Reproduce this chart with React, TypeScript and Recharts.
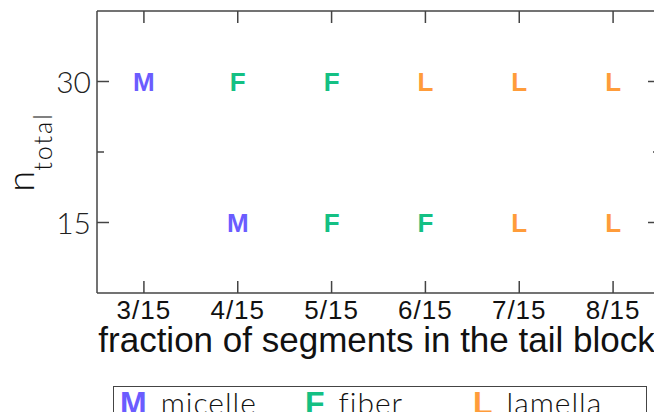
import React from 'react';
import { ScatterChart, Scatter, XAxis, YAxis } from 'recharts';

// tail fraction numerators (denominator 15)
const fractions = [3, 4, 5, 6, 7, 8];
const nTotalRows = [30, 15];
// phase letter per fraction, one list per n_total row ('' = no point)
const phasesAt30 = ['M', 'F', 'F', 'L', 'L', 'L'];
const phasesAt15 = ['', 'M', 'F', 'F', 'L', 'L'];
const phaseKeys = ['M', 'F', 'L'];
const phaseNames = ['micelle', 'fiber', 'lamella'];
const yTicks = [15, 22.5, 30];

const COLORS: Record<string, string> = { M: '#6b5cff', F: '#14c083', L: '#ff9c3a' };
const AXIS = '#444';
const SANS = '"Liberation Sans", Arial, sans-serif';
const LIGHT = '"Lato", "Open Sans", sans-serif';

const rows = [phasesAt30, phasesAt15];
const series = phaseKeys.map((key, i) => {
  const pts: { x: number; y: number }[] = [];
  rows.forEach((row, r) => {
    row.forEach((p, j) => {
      if (p === key) pts.push({ x: fractions[j], y: nTotalRows[r] });
    });
  });
  return { key, name: phaseNames[i], data: pts };
});
const allPoints = series.flatMap((s) => s.data);

const LetterShape = (letter: string) => (props: any) => (
  <text
    x={props.cx}
    y={props.cy}
    textAnchor="middle"
    dominantBaseline="central"
    fill={COLORS[letter]}
    fontFamily={SANS}
    fontWeight="bold"
    fontSize={26}
  >
    {letter}
  </text>
);

const NoShape = () => <g />;

const BottomTick = (props: any) => {
  const { x, y, payload } = props;
  return (
    <g>
      <line x1={x} x2={x} y1={y} y2={y - 12} stroke={AXIS} strokeWidth={1.5} />
      <text x={x} y={y + 26} textAnchor="middle" fill="#111" fontFamily={SANS} fontSize={26} letterSpacing={1}>
        {`${payload.value}/15`}
      </text>
    </g>
  );
};

const TopTick = (props: any) => {
  const { x, y } = props;
  return <line x1={x} x2={x} y1={y} y2={y + 12} stroke={AXIS} strokeWidth={1.5} />;
};

const LeftTick = (props: any) => {
  const { x, y, payload } = props;
  const major = payload.value % 15 === 0;
  return (
    <g>
      <line x1={x} x2={x + (major ? 12 : 7)} y1={y} y2={y} stroke={AXIS} strokeWidth={1.5} />
      {major && (
        <text x={x - 6} y={y + 11} textAnchor="end" fill="#222" fontFamily={LIGHT} fontWeight={300} fontSize={30}>
          {payload.value}
        </text>
      )}
    </g>
  );
};

const RightTick = (props: any) => {
  const { x, y, payload } = props;
  const major = payload.value % 15 === 0;
  return <line x1={x} x2={x - (major ? 12 : 7)} y1={y} y2={y} stroke={AXIS} strokeWidth={1.5} />;
};

const YLabel = () => (
  <text transform="translate(34,152) rotate(-90)" textAnchor="middle" fill="#111" fontFamily={LIGHT} fontWeight={300}>
    <tspan fontSize={38}>n</tspan>
    <tspan fontSize={25} dy={18} letterSpacing={2}>total</tspan>
  </text>
);

const XLabel = (props: any) => {
  const { viewBox } = props;
  return (
    <text
      x={viewBox.x + viewBox.width / 2 - 2}
      y={viewBox.y + 59}
      textAnchor="middle"
      fill="#111"
      fontFamily={SANS}
      fontSize={35}
    >
      fraction of segments in the tail block
    </text>
  );
};

export default function App() {
  return (
    <div style={{ margin: -8, position: 'relative', width: 662, height: 420, overflow: 'hidden' }}>
      <ScatterChart width={662} height={420} margin={{ top: 10, right: 1, bottom: 57, left: 0 }}>
        <XAxis
          type="number"
          dataKey="x"
          domain={[2.5, 8.5]}
          ticks={fractions}
          height={70}
          tickSize={0}
          tickMargin={0}
          tickLine={false}
          tick={BottomTick}
          axisLine={{ stroke: AXIS, strokeWidth: 1.5 }}
          label={<XLabel />}
        />
        <XAxis
          xAxisId="top"
          orientation="top"
          type="number"
          dataKey="x"
          domain={[2.5, 8.5]}
          ticks={fractions}
          height={1}
          tickSize={0}
          tickMargin={0}
          tickLine={false}
          tick={TopTick}
          axisLine={{ stroke: AXIS, strokeWidth: 1.5 }}
        />
        <YAxis
          type="number"
          dataKey="y"
          domain={[7.5, 37.5]}
          ticks={yTicks}
          width={97}
          tickSize={0}
          tickMargin={0}
          tickLine={false}
          tick={LeftTick}
          axisLine={{ stroke: AXIS, strokeWidth: 1.5 }}
          label={<YLabel />}
        />
        <YAxis
          yAxisId="right"
          orientation="right"
          type="number"
          dataKey="y"
          domain={[7.5, 37.5]}
          ticks={yTicks}
          width={1}
          tickSize={0}
          tickMargin={0}
          tickLine={false}
          tick={RightTick}
          axisLine={{ stroke: AXIS, strokeWidth: 1.5 }}
        />
        {series.map((s) => (
          <Scatter
            key={s.key}
            name={s.name}
            data={s.data}
            shape={LetterShape(s.key)}
            isAnimationActive={false}
          />
        ))}
        {/* invisible series so the mirrored top/right axes get drawn */}
        <Scatter
          xAxisId="top"
          yAxisId="right"
          data={allPoints}
          shape={NoShape}
          legendType="none"
          isAnimationActive={false}
        />
      </ScatterChart>
      <div
        style={{
          position: 'absolute',
          left: 113,
          top: 386,
          width: 532,
          height: 60,
          border: `1.5px solid ${AXIS}`,
        }}
      >
        {series.map((s, i) => (
          <div
            key={s.key}
            style={{ position: 'absolute', left: [6, 191, 359][i], top: 0, whiteSpace: 'nowrap', lineHeight: '30px' }}
          >
            <span style={{ color: COLORS[s.key], fontFamily: SANS, fontWeight: 'bold', fontSize: 32 }}>{s.key}</span>
            <span
              style={{ fontFamily: LIGHT, fontWeight: 300, fontSize: 30, color: '#111', marginLeft: 14, letterSpacing: 1 }}
            >
              {s.name}
            </span>
          </div>
        ))}
      </div>
    </div>
  );
}
